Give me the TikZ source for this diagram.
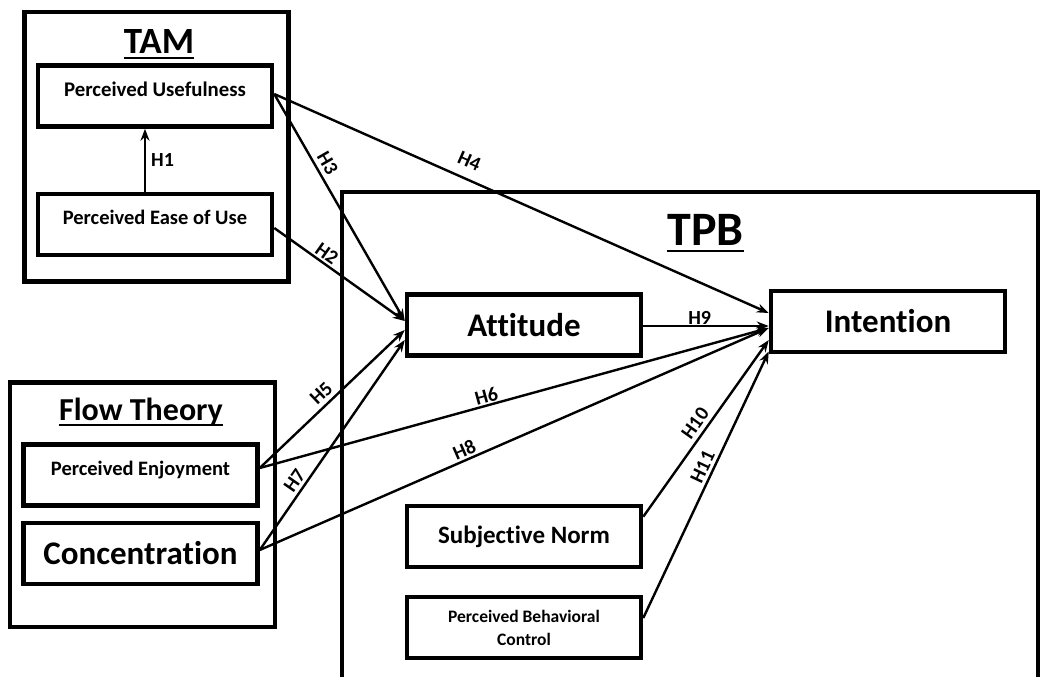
\documentclass[tikz,border=0pt]{standalone}
\usepackage{fontspec}
\setmainfont{Carlito}[Ligatures=NoCommon]
\usetikzlibrary{arrows.meta,positioning}

\begin{document}
\begin{tikzpicture}[x=1pt, y=-1pt,
    group/.style={rectangle, draw, line width=4.5pt},
    box/.style={rectangle, draw, line width=4.5pt, minimum width=234pt,
    minimum height=61pt, align=center, font=\bfseries},
    lowtext/.style={text height=13pt, text depth=13pt},
    heading/.style={inner sep=0pt, anchor=base},
    hyp/.style={-{Stealth[length=12pt,width=9pt]}, line width=2.4pt},
    hlabel/.style={sloped, inner sep=1pt, font=\bfseries\fontsize{20}{22}\selectfont}]

    \useasboundingbox (0,0) rectangle (1041,677);
    \clip (0,0) rectangle (1041,677);

    % the three theories
    \node[group, minimum width=264pt, minimum height=269.5pt] (tam) at (156.5,146.75) {};
    \node[group, minimum width=265pt, minimum height=244.5pt] (flow) at (142.4,504.8) {};
    \node[group, minimum width=696pt, minimum height=510pt] (tpb) at (690,447) {};

    \node[heading, font=\bfseries\fontsize{37}{42}\selectfont] (tamtitle) at (159,53) {TAM};
    \node[heading, font=\bfseries\fontsize{32}{36}\selectfont] (flowtitle) at (141,420) {Flow Theory};
    \node[heading, font=\bfseries\fontsize{48}{54}\selectfont] (tpbtitle) at (705.5,245) {TPB};
    \draw[line width=2.5pt] ([yshift=-5pt]tamtitle.base west) -- ([yshift=-5pt]tamtitle.base east);
    \draw[line width=2.5pt] ([yshift=-5pt]flowtitle.base west) -- ([yshift=-5pt]flowtitle.base east);
    \draw[line width=1.5pt] ([yshift=-6pt]tpbtitle.base west) -- ([yshift=-6pt]tpbtitle.base east);

    % constructs
    \node[box, lowtext, font=\bfseries\fontsize{20.8}{24}\selectfont] (pu) at (155,96) {Perceived Usefulness};
    \node[box, lowtext, font=\bfseries\fontsize{20.5}{24}\selectfont, below=63pt of pu] (peou) {Perceived Ease of Use};
    \node[box, lowtext, font=\bfseries\fontsize{20.5}{24}\selectfont] (pe) at (140.5,475) {Perceived Enjoyment};
    \node[box, font=\bfseries\fontsize{33}{38}\selectfont, below=13pt of pe] (conc) {Concentration};
    \node[box, font=\bfseries\fontsize{33}{38}\selectfont] (att) at (524,325) {Attitude};
    \node[box, font=\bfseries\fontsize{33}{38}\selectfont] (int) at (888,321.5) {Intention};
    \node[box, font=\bfseries\fontsize{25}{29}\selectfont] (sn) at (524,536.7) {Subjective Norm};
    \node[box, font=\bfseries\fontsize{17.5}{23}\selectfont, below=25.3pt of sn] (pbc) {Perceived Behavioral\\Control};

    % hypotheses
    \draw[hyp] ([xshift=-10pt]peou.north) -- node[midway, right, inner sep=5pt,
        font=\bfseries\fontsize{20}{22}\selectfont] {H1} ([xshift=-10pt]pu.south);
    \draw[hyp] ([yshift=-3.5pt]peou.east) -- node[hlabel, pos=.36, above=1pt] {H2} ([yshift=4pt]att.west);
    \draw[hyp] ([yshift=2pt]pu.east) -- node[hlabel, pos=.33, above=3pt] {H3} ([yshift=4pt]att.west);
    \draw[hyp] ([yshift=2pt]pu.east) -- node[hlabel, pos=.38, above=9pt] {H4} ([yshift=8.5pt]int.west);
    \draw[hyp] ([yshift=7pt]pe.east) -- node[hlabel, pos=.48, above=3pt] {H5} ([yshift=-5pt]att.west);
    \draw[hyp] ([yshift=7pt]pe.east) -- node[hlabel, pos=.45, above=0pt] {H6} ([yshift=-6.5pt]int.west);
    \draw[hyp] ([yshift=3.5pt]conc.east) -- node[hlabel, pos=.30, above=2pt] {H7} ([yshift=-15pt]att.west);
    \draw[hyp] ([yshift=3.5pt]conc.east) -- node[hlabel, pos=.41, above=1pt] {H8} ([yshift=-6.5pt]int.west);
    \draw[hyp] ([yshift=-1pt]att.east) -- node[pos=.45, above, inner sep=0pt,
        font=\bfseries\fontsize{20}{22}\selectfont] {H9} ([yshift=-4.5pt]int.west);
    \draw[hyp] ([yshift=20pt]sn.east) -- node[hlabel, pos=.49, above=3pt] {H10} ([yshift=-18.5pt]int.west);
    \draw[hyp] ([yshift=9.5pt]pbc.east) -- node[hlabel, pos=.55, above=2pt] {H11} ([yshift=-30pt]int.west);
\end{tikzpicture}
\end{document}
